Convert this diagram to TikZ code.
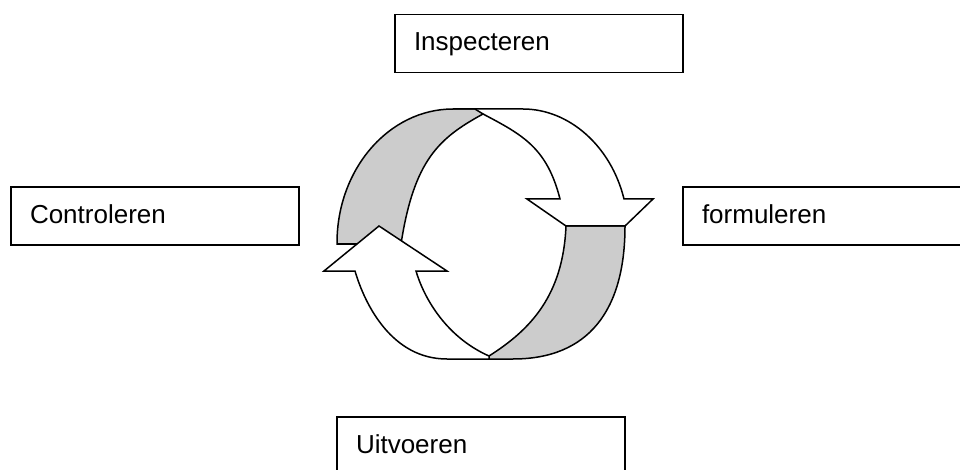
\documentclass[tikz,border=0pt]{standalone}
\usepackage{fontspec}
\setmainfont{Liberation Sans}
\usepackage{tikz}
\usetikzlibrary{positioning}
\tikzset{x=1pt, y=-1pt,
stage/.style={ % Sets the properties for each box
draw,
line width=1.1pt,
minimum height=58pt,
text width=250pt,
inner xsep=19pt,
align=left,
text height=20pt,
text depth=5pt,
font=\fontsize{26}{30}\selectfont},
band/.style={ % Outline of the ring parts
draw,
line width=1.5pt,
line join=miter},
shade/.style={band, fill=black!20}}

\begin{document}
\begin{tikzpicture}
\useasboundingbox (0,0) rectangle (960,470);
\node[stage] (insp) at (539,43.5) {Inspecteren};
\node[stage] (contr) at (155,216) {Controleren};
\node[stage] (form) at (827,216) {formuleren};
\node[stage] (uitv) at (481,446) {Uitvoeren};
% gray inside of the ring
\draw[shade] (337,244) -- (337,243) .. controls (337,169) and (389,109) .. (453,109) -- (475,109) -- (483,114)
  .. controls (439,138) and (414,160) .. (401,244) -- cycle;
\draw[shade] (566,226) -- (625,226) .. controls (625,311) and (588,359) .. (513,359) -- (489,359) -- (489,356)
  .. controls (530,330) and (563,296) .. (566,226) -- cycle;
% arrow going up
\draw[band, fill=white] (379,226) -- (447,271) -- (416,271) .. controls (423,295) and (444,336) .. (489,356)
  -- (489,359) -- (447,359) .. controls (392,359) and (365,305) .. (355,271) -- (324,271) -- cycle;
% arrow going down
\draw[band] (453,109) -- (523,109) .. controls (569,109) and (611,146) .. (624,199) -- (653,199) -- (625,226)
  -- (566,226) -- (527,199) -- (560,199) .. controls (547,148) and (523,135) .. (483,114);
\end{tikzpicture}
\end{document}
